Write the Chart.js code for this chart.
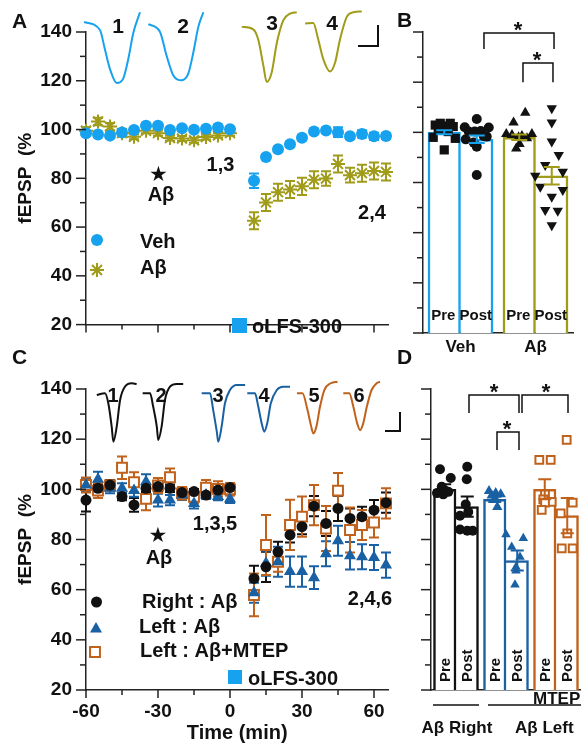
<!DOCTYPE html>
<html>
<head>
<meta charset="utf-8">
<script src="https://cdn.jsdelivr.net/npm/chart.js@4.4.1/dist/chart.umd.min.js"></script>
<style>
  body { margin: 0; background: #fff; width: 581px; height: 747px; position: relative; overflow: hidden; }
  canvas { position: absolute; }
</style>
</head>
<body>
<canvas id="cA" width="395" height="350" style="left:0;top:0"></canvas>
<canvas id="cB" width="186" height="360" style="left:395px;top:0"></canvas>
<canvas id="cC" width="405" height="407" style="left:0;top:340px"></canvas>
<canvas id="cD" width="186" height="407" style="left:395px;top:340px"></canvas>
<script>
// ---- data ----
const times = [-60, -55, -50, -45, -40, -35, -30, -25, -20, -15, -10, -5, 0, 10, 15, 20, 25, 30, 35, 40, 45, 50, 55, 60, 65];
const yTicks = [20, 30, 40, 50, 60, 70, 80, 90, 100, 110, 120, 130, 140];
const yLabelled = [20, 40, 60, 80, 100, 120, 140];
const xTicks = [-60, -45, -30, -15, 0, 15, 30, 45, 60];
const xLabelled = [-60, -30, 0, 30, 60];

// panel A
const vehA = [98.5, 98, 97.5, 98.8, 99.8, 101.6, 101.6, 99.8, 100.5, 99.9, 100.3, 100.8, 100.1,
  79, 88.7, 91.9, 94, 96.6, 99.2, 99.6, 98.9, 97.2, 98.2, 97.2, 97.3];
const vehAErr = [0.8, 0.8, 0.8, 0.8, 0.8, 0.8, 0.8, 0.8, 0.8, 0.8, 0.8, 0.8, 0.8,
  3, 1, 1, 1, 1, 1, 1, 2, 1, 1.5, 1.5, 1.2];
const abA = [99.5, 103.3, 101.2, 98.5, 97, 99.5, 98.5, 96.5, 96.3, 95.6, 96.9, 97.6, 98.5,
  62.6, 70.1, 74.3, 75.4, 76.7, 79.4, 79.9, 85.9, 81.3, 82.1, 83, 82.6];
const abAErr = [1.5, 1.5, 1.5, 1, 1, 1, 1, 1, 1, 1, 1, 1, 1,
  3.5, 3.5, 3.5, 3.5, 3.5, 3.5, 3, 3.5, 3, 3.5, 3.5, 3.5];

// panel C
const rightC = [95.7, 100.4, 101.7, 97.1, 93.8, 100.4, 101.1, 100.4, 98.7, 99.1, 97.7, 99.7, 100.7,
  64.5, 69.1, 75.1, 81.8, 85.1, 93.3, 86.4, 92.4, 88.4, 89.1, 91.7, 94.7];
const rightCErr = [4.5, 1.5, 2, 1.5, 2.7, 1.5, 2, 1.5, 1.5, 1, 1.5, 1.5, 1.5,
  5, 6, 4, 3, 3, 4, 5, 5, 4, 4, 4, 4];
const leftC = [101.7, 104, 100.4, 100.4, 99.5, 103, 95.7, 95.7, 97.7, 94.4, 97.7, 97.1, 96.1,
  58.8, 70.5, 71.1, 67.2, 67.2, 64.8, 74.3, 79.5, 73.5, 73.1, 72.8, 69.8];
const leftCErr = [2.5, 3, 2, 2, 2.5, 3, 2.5, 2, 2, 2, 1.5, 1.5, 1.5,
  4, 5, 6, 6, 6, 4.5, 5, 6, 5.5, 5, 5, 5];
const mtepC = [101.7, 99.5, 101.5, 108.6, 102.8, 96.2, 101.5, 104.8, 98.4, 97, 100.7, 100.2, 100,
  57.9, 77.8, 71.1, 85.8, 89.1, 93.7, 84.4, 99.5, 83.8, 85.8, 86.8, 94.4];
const mtepCErr = [3, 3, 2, 4.5, 4, 4.5, 3, 3.5, 2.5, 2.5, 3, 3, 2.5,
  8.5, 12, 4, 10, 8, 8, 9, 7, 9, 6, 6, 6];

// example fEPSP traces [time, %]
const traceA = [
  [[-60.8, 144.1], [-54.2, 140.8], [-52.1, 132.8], [-50, 124.8], [-47.2, 119.1], [-44.5, 120.9], [-42.4, 128.8], [-40.3, 139.6], [-37.5, 148.1]],
  [[-34, 143.2], [-29.2, 140.1], [-26.4, 130.2], [-23.6, 122.2], [-20.1, 120.2], [-17.4, 122.9], [-15.3, 131.5], [-13.2, 142.1], [-11.1, 148.1]],
  [[4.9, 142.1], [9.7, 141.1], [11.8, 136.8], [13.9, 126.2], [15.3, 119.5], [17.4, 123.5], [19.5, 135.5], [22.2, 144.8], [25, 147.5], [27.8, 148.1]],
  [[31.3, 143.5], [34.7, 143.7], [36.8, 136.8], [38.9, 128.8], [41.7, 123.8], [43.8, 127.5], [45.8, 136.8], [48.6, 146.1], [51.4, 148.1], [54.9, 148.4]]
];
const traceC = [
  [[-55.5, 137.6], [-52.1, 138.3], [-50.7, 134.3], [-49.3, 125], [-48.6, 119], [-47.2, 125], [-45.8, 135.6], [-43.8, 140.9], [-41, 142.3], [-38.9, 142]],
  [[-36.4, 138.3], [-33.3, 138.3], [-32, 132.9], [-30.5, 125], [-29.9, 119.7], [-28.5, 125], [-27.1, 135.6], [-25, 140.9], [-22.2, 142], [-19.5, 142]],
  [[-11.8, 138.3], [-8.3, 138.3], [-7, 131.6], [-5.5, 123], [-4.9, 119], [-3.5, 125], [-2.1, 134.3], [0, 139.6], [2.8, 141.6], [6.3, 141.6]],
  [[7.2, 138.3], [10.4, 138.3], [11.8, 132.9], [13.2, 126.3], [14.3, 123], [15.5, 126.3], [17, 134.3], [19.5, 139.6], [22.2, 140.9], [25, 140.9]],
  [[27.9, 138.3], [30.2, 138.3], [32.3, 131.6], [33.7, 125.6], [34.7, 122.3], [36, 125], [37.5, 132.9], [39.3, 139.6], [42, 142.3], [44.8, 142.9]],
  [[47.2, 138.3], [49.7, 138.3], [51.4, 132.9], [53, 126.3], [54.2, 123.6], [55.5, 126.3], [57, 132.9], [59, 139.6], [61.1, 142.3], [62.5, 142.9]]
];

// panel B
const groupsB = ['Veh', 'A\u03B2'];
const preB = [100, 98];
const preBErr = [0.8, 1.1];
const postB = [97.2, 82.7];
const postBErr = [1.5, 3.5];
const vehPreB = [102.9, 103.6, 102.5, 103.6, 101.2, 102.3, 98, 97.6, 93, 100.3, 101.6];
const vehPreJ = [-0.12, -0.053, 0.04, 0.08, -0.013, 0.12, -0.147, 0.147, 0, 0.053, -0.08];
const vehPostB = [102, 105.3, 100.3, 100.3, 100.5, 101.9, 97.2, 95.9, 94.3, 98.3, 83, 98.5];
const vehPostJ = [-0.16, 0, -0.107, -0.027, 0.053, 0.16, -0.147, -0.04, 0, 0.133, 0, 0.093];
const abPreB = [103.9, 107.8, 99.3, 98.9, 98, 98.5, 99.3, 93.6, 95.3, 97.6];
const abPreJ = [-0.076, 0.08, -0.173, -0.097, -0.009, 0.036, 0.169, -0.04, 0.004, 0.103];
const abPostB = [109.6, 103.9, 96.3, 91, 87, 84.3, 82.7, 78.3, 74.3, 77, 69, 68.7, 63];
const abPostJ = [0, 0, 0, 0.093, -0.087, 0.147, -0.22, -0.153, 0, 0.147, -0.087, 0.08, 0];
const bracketsB = [[0.313, 1.247, 139.6, 133.2, 0.767], [0.833, 1.233, 127.6, 120, 1.02]];

// panel D
const groupsD = ['A\u03B2 Right', 'A\u03B2 Left', 'A\u03B2 Left + MTEP'];
const preD = [100, 96, 100];
const preDErr = [2, 1, 4];
const postD = [93.1, 71.6, 89.5];
const postDErr = [4, 4, 7];
const rPreD = [108, 104.5, 101, 99.5, 99, 98.5, 98];
const rPreJ = [-0.095, 0.12, -0.06, 0.005, 0.07, -0.155, -0.03];
const rPostD = [109, 104, 94, 89.5, 84, 83.5, 83.5, 91];
const rPostJ = [0, -0.01, -0.03, -0.145, -0.145, 0, 0.11, 0.02];
const lPreD = [99.3, 98.5, 98, 96.4, 93, 97.5];
const lPreJ = [-0.115, 0.019, 0.119, 0.005, 0.051, -0.061];
const lPostD = [82, 80.5, 77, 73, 69, 67.5, 62];
const lPostJ = [-0.225, 0.121, -0.111, 0.055, -0.025, -0.025, -0.045];
const mPreD = [111.7, 111.7, 98, 96, 95, 94.7, 91.8];
const mPreJ = [-0.109, 0.119, 0.005, -0.029, 0.139, 0.005, -0.061];
const mPostD = [119.7, 94.7, 90.4, 82.4, 76.5, 76.5];
const mPostJ = [-0.011, 0.109, -0.131, 0.001, -0.111, 0.109];
const bracketsD = [[0.26, 1.26, 137.6, 130.4, 0.76], [1.32, 2.24, 137.6, 130.4, 1.8], [0.82, 1.26, 122.9, 115.7, 1.02]];

// ---- style ----
const BLUE = '#17a2ef', OLIVE = '#a19b1a', DBLUE = '#1a61a3', ORANGE = '#c0621c', INK = '#111', AXIS = '#222';
const FONT = '"Liberation Sans", Arial, Helvetica, sans-serif';

Chart.defaults.font.family = FONT;
Chart.defaults.font.size = 19;
Chart.defaults.font.weight = 'bold';
Chart.defaults.color = INK;
Chart.defaults.animation = false;
Chart.defaults.events = [];
Chart.defaults.plugins.legend.display = false;
Chart.defaults.plugins.tooltip.enabled = false;
Chart.defaults.elements.line.capBezierPoints = false;

const xy = (xs, ys) => xs.map((x, i) => ({ x: x, y: ys[i] }));
const pts = (g, side, off, vals, jit) => vals.map((v, i) => ({ x: g + side * off + jit[i], y: v }));
const barPts = (side, off, vals) => vals.map((v, g) => ({ x: g + side * off, y: v }));

function txt(c, s, x, cy, size, align, color, family) {
  c.save();
  c.font = 'bold ' + size + 'px ' + (family || FONT);
  c.fillStyle = color || INK;
  c.textAlign = align || 'center';
  c.textBaseline = 'alphabetic';
  const m = c.measureText(s);
  c.fillText(s, x, cy + (m.actualBoundingBoxAscent - m.actualBoundingBoxDescent) / 2);
  c.restore();
}

function path(c, p, w) {
  c.save();
  c.strokeStyle = INK; c.lineWidth = w;
  c.beginPath();
  p.forEach((q, i) => i ? c.lineTo(q[0], q[1]) : c.moveTo(q[0], q[1]));
  c.stroke();
  c.restore();
}

function marker(c, style, x, y, r, fill, stroke, bw) {
  c.save();
  c.fillStyle = fill; c.strokeStyle = stroke; c.lineWidth = bw;
  c.beginPath();
  if (style === 'circle') c.arc(x, y, r, 0, Math.PI * 2);
  else if (style === 'triangle') { c.moveTo(x, y - r); c.lineTo(x + r * 0.866, y + r * 0.5); c.lineTo(x - r * 0.866, y + r * 0.5); c.closePath(); }
  else if (style === 'rect') { const s = r * Math.SQRT1_2; c.rect(x - s, y - s, 2 * s, 2 * s); }
  else if (style === 'star') {
    for (let k = 0; k < 4; k++) {
      const a = k * Math.PI / 4;
      c.moveTo(x + Math.cos(a) * r, y + Math.sin(a) * r);
      c.lineTo(x - Math.cos(a) * r, y - Math.sin(a) * r);
    }
  }
  if (style !== 'star') c.fill();
  if (bw) c.stroke();
  c.restore();
}

// error bars: under the markers for time courses, on top for bars
function drawErrors(chart, onTop) {
  const c = chart.ctx;
  chart.data.datasets.forEach((ds, i) => {
    if (!ds.errors || !!ds.errOnTop !== onTop) return;
    const meta = chart.getDatasetMeta(i);
    const ys = chart.scales[meta.yAxisID];
    c.save();
    c.lineWidth = ds.errWidth || 2;
    meta.data.forEach((el, j) => {
      const e = ds.errors[j];
      if (!e) return;
      const raw = ds.data[j];
      const v = typeof raw === 'number' ? raw : raw.y;
      const t = ys.getPixelForValue(v + e), b = ys.getPixelForValue(v - e);
      const w = (ds.capWidth || 10) / 2;
      c.strokeStyle = Array.isArray(ds.errColor) ? ds.errColor[j] : ds.errColor;
      c.beginPath();
      c.moveTo(el.x, t); c.lineTo(el.x, b);
      c.moveTo(el.x - w, t); c.lineTo(el.x + w, t);
      c.moveTo(el.x - w, b); c.lineTo(el.x + w, b);
      c.stroke();
    });
    c.restore();
  });
}
const errPlugin = {
  id: 'errbars',
  beforeDatasetsDraw(chart) { drawErrors(chart, false); },
  afterDatasetsDraw(chart) { drawErrors(chart, true); }
};

// tick marks, longer on labelled values
function marks(cfg) {
  return {
    id: 'marks',
    afterDraw(chart) {
      const c = chart.ctx;
      c.save();
      c.strokeStyle = AXIS; c.lineWidth = 1.5;
      Object.keys(cfg).forEach(id => {
        const s = chart.scales[id];
        s.ticks.forEach(t => {
          const p = s.getPixelForValue(t.value);
          c.beginPath();
          if (s.isHorizontal()) {
            const len = t.value % cfg[id] === 0 ? 8 : 5;
            c.moveTo(p, s.top); c.lineTo(p, s.top + len);
          } else {
            const len = t.value % cfg[id] === 0 ? 10 : 6;
            c.moveTo(s.right, p); c.lineTo(s.right - len, p);
          }
          c.stroke();
        });
      });
      c.restore();
    }
  };
}

function drawBrackets(chart, list) {
  const xs = chart.scales.x, y = chart.scales.y;
  list.forEach(b => {
    const x1 = xs.getPixelForValue(b[0]), x2 = xs.getPixelForValue(b[1]);
    const yt = y.getPixelForValue(b[2]), yl = y.getPixelForValue(b[3]);
    path(chart.ctx, [[x1, yl], [x1, yt], [x2, yt], [x2, yl]], 1.5);
    txt(chart.ctx, '*', xs.getPixelForValue(b[4]), yt - 6.5, 22);
  });
}

function tsScales(showX) {
  return {
    x: {
      type: 'linear', min: -60, max: 66,
      afterFit: s => { s.height = showX ? 57 : 17; },
      afterBuildTicks: s => { s.ticks = xTicks.map(v => ({ value: v })); },
      grid: { display: false, drawTicks: false },
      border: { display: true, color: AXIS, width: 1.5 },
      ticks: { display: showX, padding: 10, autoSkip: false, maxRotation: 0,
        callback: v => xLabelled.includes(v) ? String(v) : '' },
      title: { display: showX, text: 'Time (min)', font: { size: 20, weight: 'bold' }, padding: { top: 0, bottom: 2 } }
    },
    y: {
      type: 'linear', min: 20, max: 140,
      afterFit: s => { s.width = 86; },
      afterBuildTicks: s => { s.ticks = yTicks.map(v => ({ value: v })); },
      grid: { display: false, drawTicks: false },
      border: { display: true, color: AXIS, width: 1.5 },
      ticks: { padding: 14, autoSkip: false, callback: v => yLabelled.includes(v) ? String(v) : '' },
      title: { display: true, text: 'fEPSP  (%', font: { size: 19, weight: 'bold' }, padding: { top: 14, bottom: 0 } }
    }
  };
}

function series(values, errs, color, style, r, extra) {
  return Object.assign({
    data: xy(times, values), errors: errs, errColor: color, capWidth: 10, errWidth: 2,
    pointStyle: style, pointRadius: r, pointBackgroundColor: color, pointBorderColor: color,
    pointBorderWidth: 0, showLine: false, clip: false
  }, extra || {});
}
function traces(list, colors) {
  return list.map((tr, i) => ({
    data: tr.map(p => ({ x: p[0], y: p[1] })), showLine: true, pointRadius: 0,
    borderColor: colors[i], borderWidth: 2, cubicInterpolationMode: 'monotone', clip: false
  }));
}

// ---- A ----
new Chart(document.getElementById('cA'), {
  type: 'scatter',
  data: {
    datasets: [
      series(vehA, vehAErr, BLUE, 'circle', 6),
      series(abA, abAErr, OLIVE, 'star', 7, { pointBorderWidth: 2 }),
      ...traces(traceA, [BLUE, BLUE, OLIVE, OLIVE])
    ]
  },
  options: {
    responsive: false, devicePixelRatio: 1,
    layout: { autoPadding: false, padding: { left: 0, top: 32, right: 6.6, bottom: 0 } },
    scales: tsScales(false)
  },
  plugins: [errPlugin, marks({ x: 30, y: 20 }), {
    id: 'decoA',
    afterDraw(chart) {
      const c = chart.ctx;
      txt(c, 'A', 12, 20.5, 21, 'left');
      txt(c, '1', 118, 26, 21); txt(c, '2', 183, 26, 21);
      txt(c, '3', 272, 23, 21); txt(c, '4', 332, 23, 21);
      path(c, [[358, 46], [378, 46], [378, 25]], 2);
      txt(c, '\u2605', 158.5, 173.5, 21, 'center', INK, '"DejaVu Sans", sans-serif');
      txt(c, 'A\u03B2', 161, 195, 20);
      txt(c, '1,3', 220.5, 165, 20);
      txt(c, '2,4', 372, 213, 20);
      marker(c, 'circle', 97, 240, 6, BLUE, BLUE, 0);
      txt(c, 'Veh', 140, 240, 20, 'left');
      marker(c, 'star', 97, 270, 7, OLIVE, OLIVE, 2);
      txt(c, 'A\u03B2', 140, 268, 20, 'left');
      c.fillStyle = BLUE; c.fillRect(232, 318, 15, 15);
      txt(c, 'oLFS-300', 252, 326, 20, 'left');
    }
  }]
});

// ---- C ----
new Chart(document.getElementById('cC'), {
  type: 'scatter',
  data: {
    datasets: [
      series(rightC, rightCErr, INK, 'circle', 5.5),
      series(leftC, leftCErr, DBLUE, 'triangle', 7),
      series(mtepC, mtepCErr, ORANGE, 'rect', 7, { pointBackgroundColor: '#fff', pointBorderWidth: 2 }),
      ...traces(traceC, [INK, INK, DBLUE, DBLUE, ORANGE, ORANGE])
    ]
  },
  options: {
    responsive: false, devicePixelRatio: 1,
    layout: { autoPadding: false, padding: { left: 0, top: 49, right: 16.6, bottom: 0 } },
    scales: tsScales(true)
  },
  plugins: [errPlugin, marks({ x: 30, y: 20 }), {
    id: 'decoC',
    afterDraw(chart) {
      const c = chart.ctx;
      txt(c, 'C', 12, 17, 21, 'left');
      ['1', '2', '3', '4', '5', '6'].forEach((s, i) => txt(c, s, [113, 161, 218, 264, 314, 359][i], 55, 20));
      path(c, [[385, 91], [400, 91], [400, 72]], 2);
      txt(c, '\u2605', 158, 194, 21, 'center', INK, '"DejaVu Sans", sans-serif');
      txt(c, 'A\u03B2', 159, 218.5, 20);
      txt(c, '1,3,5', 215, 184.5, 20);
      txt(c, '2,4,6', 370, 259.5, 20);
      marker(c, 'circle', 96.5, 262, 5.5, INK, INK, 0);
      txt(c, 'Right : A\u03B2', 142, 262.5, 20, 'left');
      marker(c, 'triangle', 96, 289, 7, DBLUE, DBLUE, 0);
      txt(c, 'Left : A\u03B2', 139, 287.5, 20, 'left');
      marker(c, 'rect', 95, 312, 7, '#fff', ORANGE, 2);
      txt(c, 'Left : A\u03B2+MTEP', 140, 311, 20, 'left');
      c.fillStyle = BLUE; c.fillRect(228, 330, 14, 14);
      txt(c, 'oLFS-300', 248, 337.5, 20, 'left');
    }
  }]
});

// ---- bar panels (linear x: group g at value g) ----
function barSet(label, data, errs, colors, thick, post, cap) {
  return {
    type: 'bar', label: label, tag: label, data: data, errors: errs, errColor: colors, errOnTop: true,
    capWidth: cap, errWidth: 2, backgroundColor: '#fff', borderColor: colors,
    borderWidth: post ? { top: 2.5, left: 0, right: 2.5, bottom: 0 } : { top: 2.5, left: 2.5, right: 2.5, bottom: 0 },
    borderSkipped: false, grouped: false, barThickness: thick, base: 20, order: 2,
    clip: { left: 5, right: 5, top: 5, bottom: 0 }
  };
}
function dots(data, style, r, fill, stroke, bw, rot) {
  return {
    type: 'scatter', data: data, order: 1, clip: false,
    pointStyle: style, pointRadius: r, pointRotation: rot || 0,
    pointBackgroundColor: fill, pointBorderColor: stroke, pointBorderWidth: bw
  };
}
function barScales(n, yWidth, xHeight, labels) {
  return {
    x: {
      type: 'linear', offset: false, min: -0.5, max: n - 0.5,
      afterFit: s => { s.height = xHeight; },
      afterBuildTicks: s => { s.ticks = labels.map((l, i) => ({ value: i })); },
      grid: { display: false, drawTicks: false },
      border: { display: true, color: AXIS, width: 1.5 },
      ticks: { display: n === 2, padding: 4, font: { size: 17, weight: 'bold' }, maxRotation: 0, autoSkip: false,
        callback: v => labels[v] }
    },
    y: {
      type: 'linear', min: 20, max: 140,
      afterFit: s => { s.width = yWidth; },
      afterBuildTicks: s => { s.ticks = yTicks.map(v => ({ value: v })); },
      grid: { display: false, drawTicks: false },
      border: { display: true, color: AXIS, width: 1.5 },
      ticks: { display: false }
    }
  };
}

const OFF_B = 0.867 / 4;
new Chart(document.getElementById('cB'), {
  type: 'bar',
  data: {
    datasets: [
      barSet('Pre', barPts(-1, OFF_B, preB), preBErr, [BLUE, OLIVE], 32.5, false, 16),
      barSet('Post', barPts(1, OFF_B, postB), postBErr, [BLUE, OLIVE], 32.5, true, 16),
      dots(pts(0, -1, OFF_B, vehPreB, vehPreJ), 'rect', 6.5, INK, INK, 0),
      dots(pts(0, 1, OFF_B, vehPostB, vehPostJ), 'circle', 5, INK, INK, 0),
      dots(pts(1, -1, OFF_B, abPreB, abPreJ), 'triangle', 6, INK, INK, 0),
      dots(pts(1, 1, OFF_B, abPostB, abPostJ), 'triangle', 6, INK, INK, 0, 180)
    ]
  },
  options: {
    responsive: false, devicePixelRatio: 1,
    layout: { autoPadding: false, padding: { left: 0, top: 32, right: 8, bottom: 0 } },
    scales: barScales(2, 28, 27, groupsB)
  },
  plugins: [errPlugin, marks({ y: 20 }), {
    id: 'decoB',
    afterDraw(chart) {
      const c = chart.ctx;
      txt(c, 'B', 2, 20, 21, 'left');
      drawBrackets(chart, bracketsB);
      [0, 1].forEach(d => {
        chart.getDatasetMeta(d).data.forEach(el => txt(c, chart.data.datasets[d].tag, el.x - 1, chart.chartArea.bottom - 18, 15));
      });
    }
  }]
});

const OFF_D = 0.9 / 4;
new Chart(document.getElementById('cD'), {
  type: 'bar',
  data: {
    datasets: [
      barSet('Pre', barPts(-1, OFF_D, preD), preDErr, [INK, DBLUE, ORANGE], 22.5, false, 13),
      barSet('Post', barPts(1, OFF_D, postD), postDErr, [INK, DBLUE, ORANGE], 22.5, true, 13),
      dots(pts(0, -1, OFF_D, rPreD, rPreJ), 'circle', 5, INK, INK, 0),
      dots(pts(0, 1, OFF_D, rPostD, rPostJ), 'circle', 5, INK, INK, 0),
      dots(pts(1, -1, OFF_D, lPreD, lPreJ), 'triangle', 6, DBLUE, DBLUE, 0),
      dots(pts(1, 1, OFF_D, lPostD, lPostJ), 'triangle', 5.5, DBLUE, DBLUE, 0),
      dots(pts(2, -1, OFF_D, mPreD, mPreJ), 'rect', 5.5, '#fff', ORANGE, 2),
      dots(pts(2, 1, OFF_D, mPostD, mPostJ), 'rect', 5.5, '#fff', ORANGE, 2)
    ]
  },
  options: {
    responsive: false, devicePixelRatio: 1,
    layout: { autoPadding: false, padding: { left: 0, top: 49, right: 0, bottom: 0 } },
    scales: barScales(3, 36, 57, groupsD)
  },
  plugins: [errPlugin, marks({ y: 20 }), {
    id: 'decoD',
    afterDraw(chart) {
      const c = chart.ctx;
      txt(c, 'D', 2, 17, 21, 'left');
      drawBrackets(chart, bracketsD);
      [0, 1].forEach(d => {
        chart.getDatasetMeta(d).data.forEach(el => {
          const s = chart.data.datasets[d].tag;
          c.save();
          c.translate(el.x, chart.chartArea.bottom - 8);
          c.rotate(-Math.PI / 2);
          c.font = 'bold 15px ' + FONT;
          c.fillStyle = INK; c.textAlign = 'left'; c.textBaseline = 'alphabetic';
          const m = c.measureText(s);
          c.fillText(s, 0, (m.actualBoundingBoxAscent - m.actualBoundingBoxDescent) / 2);
          c.restore();
        });
      });
      path(c, [[38, 365], [84, 365]], 1.5);
      path(c, [[93, 365], [186, 365]], 1.5);
      txt(c, 'MTEP', 138, 358, 17, 'left');
      txt(c, 'A\u03B2 Right', 62, 388, 17);
      txt(c, 'A\u03B2 Left', 120, 388, 17, 'left');
    }
  }]
});
</script>
</body>
</html>
